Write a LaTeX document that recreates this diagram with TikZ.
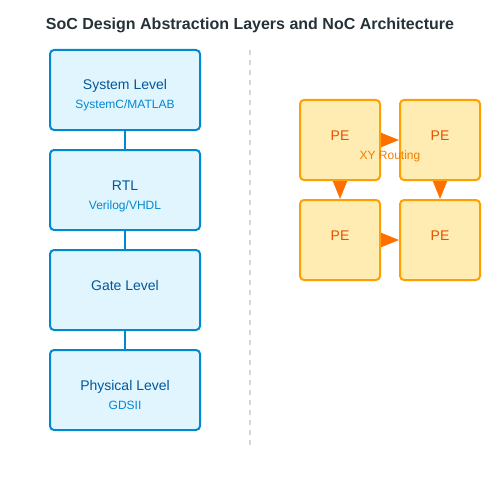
\documentclass[tikz,border=0pt]{standalone}
\usepackage{fontspec}
\setmainfont{Liberation Sans}
\usetikzlibrary{arrows.meta}
\definecolor{titlec}{HTML}{263238}
\definecolor{lbfill}{HTML}{E1F5FE}
\definecolor{lbdraw}{HTML}{0288D1}
\definecolor{lbtext}{HTML}{01579B}
\definecolor{pefill}{HTML}{FFECB3}
\definecolor{pedraw}{HTML}{FFA000}
\definecolor{petext}{HTML}{E65100}
\definecolor{arrowc}{HTML}{FF6F00}
\definecolor{routec}{HTML}{F57C00}
\definecolor{sepc}{HTML}{CFD8DC}
\begin{document}
\begin{tikzpicture}[x=1pt,y=-1pt,
  layer/.style={draw=lbdraw,fill=lbfill,line width=2pt,rounded corners=4pt,minimum width=150pt,minimum height=80pt,inner sep=0pt},
  ltitle/.style={text=lbtext,font=\fontsize{14}{16}\selectfont,inner sep=0pt,anchor=base},
  lsub/.style={text=lbdraw,font=\fontsize{12}{14}\selectfont,inner sep=0pt,anchor=base},
  pebox/.style={draw=pedraw,fill=pefill,line width=2pt,rounded corners=4pt,minimum width=80pt,minimum height=80pt,inner sep=0pt},
  petxt/.style={text=petext,font=\fontsize{14}{16}\selectfont,inner sep=0pt,anchor=base},
  link/.style={draw=lbdraw,line width=2pt},
  route/.style={draw=arrowc,line width=2pt,-{Triangle[length=18pt,width=14pt]},shorten >=0pt}
]
\useasboundingbox (0,0) rectangle (500,500);
\node[font=\bfseries\fontsize{16}{19}\selectfont,text=titlec,inner sep=0pt,anchor=base] (title) at (250,30) {SoC Design Abstraction Layers and NoC Architecture};

\node[layer] (sys) at (125,90) {};
\node[layer] (rtl) at (125,190) {};
\node[layer] (gate) at (125,290) {};
\node[layer] (phys) at (125,390) {};
\node[ltitle] (syst) at (125,90) {System Level};
\node[lsub] (syss) at (125,109) {SystemC/MATLAB};
\node[ltitle] (rtlt) at (125,190) {RTL};
\node[lsub] (rtls) at (125,209) {Verilog/VHDL};
\node[ltitle] (gatet) at (125,290) {Gate Level};
\node[ltitle] (physt) at (125,390) {Physical Level};
\node[lsub] (physs) at (125,409) {GDSII};
\draw[link] (sys.south) -- (rtl.north);
\draw[link] (rtl.south) -- (gate.north);
\draw[link] (gate.south) -- (phys.north);

\coordinate (sepa) at (250,50);
\coordinate (sepb) at (250,445);
\draw[sepc,line width=2pt,dash pattern=on 5pt off 5pt] (sepa) -- (sepb);

\node[pebox] (pe1) at (340,140) {};
\node[pebox] (pe2) at (440,140) {};
\node[pebox] (pe3) at (340,240) {};
\node[pebox] (pe4) at (440,240) {};
\node[petxt] at (340,140) {PE};
\node[petxt] at (440,140) {PE};
\node[petxt] at (340,240) {PE};
\node[petxt] at (440,240) {PE};
\draw[route] (pe1.east) -- (pe2.west);
\draw[route] (pe3.east) -- (pe4.west);
\draw[route] (pe1.south) -- (pe3.north);
\draw[route] (pe2.south) -- (pe4.north);
\node[text=routec,font=\fontsize{12}{14}\selectfont,inner sep=0pt,anchor=base] (xy) at (390,159) {XY Routing};
\end{tikzpicture}
\end{document}
